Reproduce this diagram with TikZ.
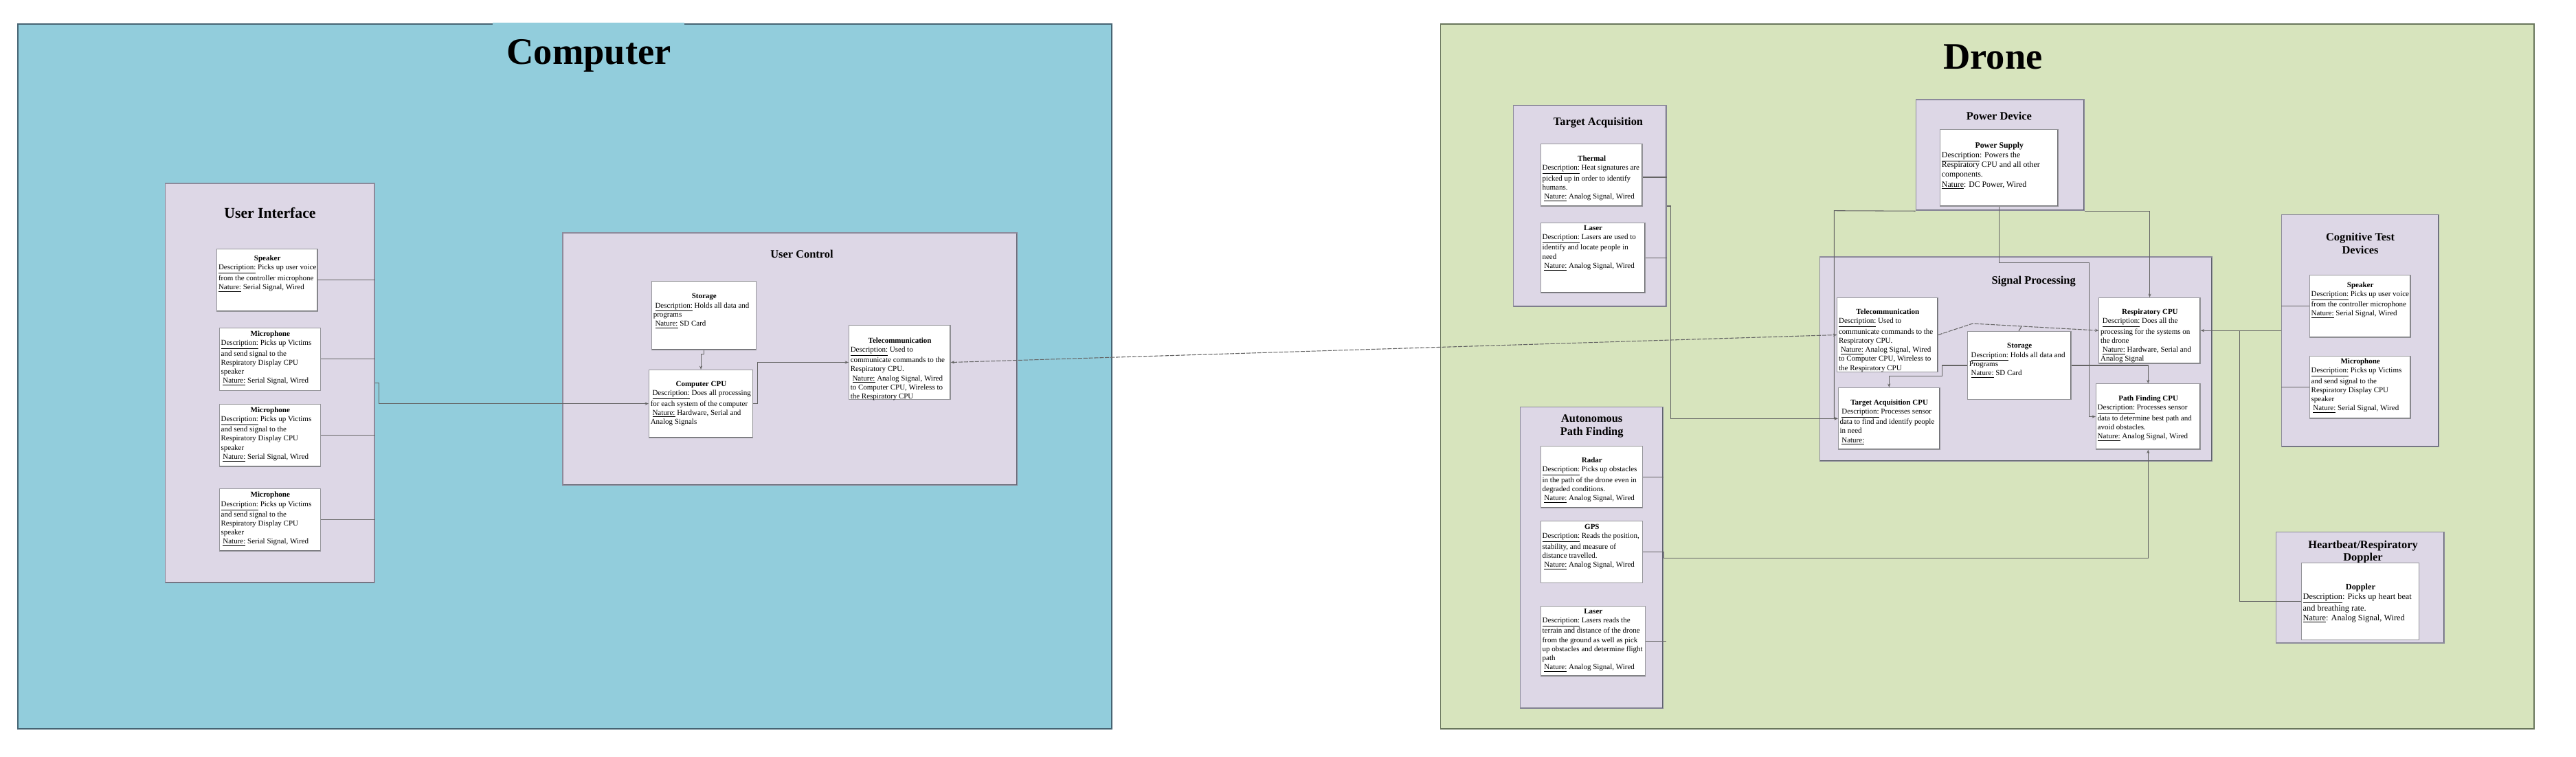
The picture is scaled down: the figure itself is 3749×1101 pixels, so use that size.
\documentclass[tikz,border=0pt]{standalone}
\usepackage{fontspec}
\setmainfont{Liberation Serif}
\usetikzlibrary{arrows.meta,fit}

\definecolor{compblue}{RGB}{146,205,220}
\definecolor{compline}{RGB}{70,100,115}
\definecolor{droneg}{RGB}{215,228,189}
\definecolor{droneline}{RGB}{105,118,92}
\definecolor{lav}{RGB}{221,215,230}
\definecolor{lavline}{RGB}{140,138,155}
\definecolor{lavdark}{RGB}{95,98,110}
\definecolor{wline}{RGB}{150,150,155}
\definecolor{wdark}{RGB}{110,110,115}
\definecolor{conn}{RGB}{100,100,100}

\newcommand\und[1]{\underline{#1}}

\tikzset{
 region/.style={inner sep=0pt, line width=0.9pt},
 pbox/.style={fill=lav, draw=lavline, line width=0.6pt, inner sep=0pt,
   path picture={\draw[lavdark,line width=1.6pt] (path picture bounding box.south west) -- (path picture bounding box.south east) -- (path picture bounding box.north east);}},
 wbox/.style={fill=white, draw=wline, line width=0.55pt, inner sep=0pt,
   path picture={\draw[wdark,line width=1.1pt] (path picture bounding box.south west) -- (path picture bounding box.south east) -- (path picture bounding box.north east);}},
 btxt/.style={anchor=north west, inner sep=0pt, align=left, font=\fontsize{6.26}{7.51}\selectfont},
 gtitle/.style={anchor=base, inner sep=0pt, font=\fontsize{31}{36}\selectfont\bfseries},
 stitle/.style={inner sep=0pt, align=center, font=\fontsize{9.33}{10.7}\selectfont\bfseries},
 wire/.style={draw=conn, line width=0.6pt},
 arr/.style={wire, -{Stealth[length=3pt,width=2.4pt]}},
 wless/.style={wire, dash pattern=on 3.5pt off 1pt, {Stealth[open,length=3pt,width=2.4pt]}-{Stealth[open,length=3pt,width=2.4pt]}},
}

\begin{document}
\begin{tikzpicture}[x=0.2mm,y=-0.2mm]
\useasboundingbox (0,0) rectangle (3749,1101);
\fill[white] (0,0) rectangle (3749,1101);

% ---------- regions ----------
\node[region, fill=compblue, draw=compline, fit={(26,35) (1618,1061)}] (comp) {};
\node[region, fill=droneg, draw=droneline, fit={(2096.6,35) (3688,1061)}] (drone) {};
\fill[compblue] (717,33) rectangle (996,37.5);
\node[gtitle] (comp-h) at (857,93) {Computer};
\node[gtitle] (drone-h) at (2900.5,100) {Drone};

% ---------- group boxes ----------
\node[pbox, fit={(240.7,267) (545,848.6)}] (ui) {};
\node[pbox, fit={(819,339) (1480.5,706.7)}] (uc) {};
\node[pbox, fit={(2202.3,153.3) (2425.7,446.7)}] (ta) {};
\node[pbox, fit={(2788.2,145) (3033.4,306.7)}] (pd) {};
\node[pbox, fit={(2648.4,374) (3219.8,671.7)}] (sp) {};
\node[pbox, fit={(3320,312.2) (3549.3,650.2)}] (ctd) {};
\node[pbox, fit={(3312.3,774.3) (3557.3,936)}] (hb) {};
\node[pbox, fit={(2212.3,592.7) (2420.7,1031.7)}] (apf) {};

\node[stitle, anchor=base, font=\fontsize{12.35}{14}\selectfont\bfseries] (ui-h) at (393,317.4) {User Interface};
\node[stitle, anchor=base] (uc-h) at (1167,375.7) {User Control};
\node[stitle, anchor=base] (ta-h) at (2326,182.7) {Target Acquisition};
\node[stitle, anchor=base] (pd-h) at (2909.4,174.3) {Power Device};
\node[stitle, anchor=base] (sp-h) at (2959.6,413.3) {Signal Processing};
\node[stitle, anchor=north] (ctd-h) at (3435,338.6) {Cognitive Test\\Devices};
\node[stitle, anchor=north, font=\fontsize{9.33}{10.4}\selectfont\bfseries] (hb-h) at (3439,786.7) {Heartbeat/Respiratory\\Doppler};
\node[stitle, anchor=north, font=\fontsize{9.33}{10.8}\selectfont\bfseries] (apf-h) at (2316.7,603.8) {Autonomous\\Path Finding};

% ---------- Computer: component boxes ----------
\node[wbox, fit={(315.7,362.6) (462,453)}] (spk1) {};
\node[btxt] (spk1-t) at (317.7,371.8) {\makebox[81.0pt]{\bfseries Speaker}\\
\und{Description:} Picks up user voice\\
from the controller microphone\\
\und{Nature:} Serial Signal, Wired};

\node[wbox, fit={(319.3,477.4) (466.7,568.5)}] (mic1) {};
\node[btxt] (mic1-t) at (321.3,481.7) {\makebox[81.6pt]{\bfseries Microphone}\\
\und{Description:} Picks up Victims\\
and send signal to the\\
Respiratory Display CPU\\
speaker\\
\ \und{Nature:} Serial Signal, Wired};

\node[wbox, fit={(319.3,588.4) (466.7,679)}] (mic2) {};
\node[btxt] (mic2-t) at (321.3,592.3) {\makebox[81.6pt]{\bfseries Microphone}\\
\und{Description:} Picks up Victims\\
and send signal to the\\
Respiratory Display CPU\\
speaker\\
\ \und{Nature:} Serial Signal, Wired};

\node[wbox, fit={(319.3,711.6) (466.7,802.3)}] (mic3) {};
\node[btxt] (mic3-t) at (321.3,715.9) {\makebox[81.6pt]{\bfseries Microphone}\\
\und{Description:} Picks up Victims\\
and send signal to the\\
Respiratory Display CPU\\
speaker\\
\ \und{Nature:} Serial Signal, Wired};

\node[wbox, fit={(948.4,409.3) (1100.6,509.3)}] (ucsto) {};
\node[btxt] (ucsto-t) at (950.4,427.2) {\makebox[84.3pt]{\bfseries Storage}\\
\ \und{Description:} Holds all data and\\
programs\\
\ \und{Nature:} SD Card};

\node[wbox, fit={(944.4,538.3) (1095.7,637)}] (ccpu) {};
\node[btxt] (ccpu-t) at (946.4,554.8) {\makebox[83.8pt]{\bfseries Computer CPU}\\
\ \und{Description:} Does all processing\\
for each system of the computer\\
\ \und{Nature:} Hardware, Serial and\\
Analog Signals};

\node[wbox, fit={(1235.4,473.3) (1383.2,581.7)}] (uctel) {};
\node[btxt] (uctel-t) at (1237.4,491.2) {\makebox[81.8pt]{\bfseries Telecommunication}\\
\und{Description:} Used to\\
communicate commands to the\\
Respiratory CPU.\\
\ \und{Nature:} Analog Signal, Wired\\
to Computer CPU, Wireless to\\
the Respiratory CPU};

% ---------- Drone: component boxes ----------
\node[wbox, fit={(2242.2,209.3) (2390.3,300.3)}] (therm) {};
\node[btxt] (therm-t) at (2244.2,226.8) {\makebox[82.0pt]{\bfseries Thermal}\\
\und{Description:} Heat signatures are\\
picked up in order to identify\\
humans.\\
\ \und{Nature:} Analog Signal, Wired};

\node[wbox, fit={(2242.2,324.3) (2394.3,426)}] (tlas) {};
\node[btxt] (tlas-t) at (2244.2,327.8) {\makebox[84.3pt]{\bfseries Laser}\\
\und{Description:} Lasers are used to\\
identify and locate people in\\
need\\
\ \und{Nature:} Analog Signal, Wired};

\node[wbox, fit={(2823.6,188.3) (2995.3,300.3)}] (ps) {};
\node[btxt, font=\fontsize{6.71}{8.14}\selectfont] (ps-t) at (2825.6,206.5) {\makebox[95.4pt]{\bfseries Power Supply}\\
\und{Description}: Powers the\\
Respiratory CPU and all other\\
components.\\
\und{Nature}: DC Power, Wired};

\node[wbox, fit={(2673.7,433.3) (2820.3,541.7)}] (sptel) {};
\node[btxt] (sptel-t) at (2675.7,449.8) {\makebox[81.1pt]{\bfseries Telecommunication}\\
\und{Description:} Used to\\
communicate commands to the\\
Respiratory CPU.\\
\ \und{Nature:} Analog Signal, Wired\\
to Computer CPU, Wireless to\\
the Respiratory CPU};

\node[wbox, fit={(2675.2,564.3) (2823.3,654.3)}] (tacpu) {};
\node[btxt] (tacpu-t) at (2677.2,581.2) {\makebox[82.0pt]{\bfseries Target Acquisition CPU}\\
\ \und{Description:} Processes sensor\\
data to find and identify people\\
in need\\
\ \und{Nature:}};

\node[wbox, fit={(2863.5,482.3) (3014.3,581.7)}] (spsto) {};
\node[btxt] (spsto-t) at (2865.5,499.2) {\makebox[83.5pt]{\bfseries Storage}\\
\ \und{Description:} Holds all data and\\
Programs\\
\ \und{Nature:} SD Card};

\node[wbox, fit={(3054.8,433.3) (3202.2,529)}] (rcpu) {};
\node[btxt] (rcpu-t) at (3056.8,449.8) {\makebox[81.6pt]{\bfseries Respiratory CPU}\\
\ \und{Description:} Does all the\\
processing for the systems on\\
the drone\\
\ \und{Nature:} Hardware, Serial and\\
Analog Signal};

\node[wbox, fit={(3050.3,558.7) (3202.2,654.3)}] (pfcpu) {};
\node[btxt] (pfcpu-t) at (3052.3,575.8) {\makebox[84.2pt]{\bfseries Path Finding CPU}\\
\und{Description:} Processes sensor\\
data to determine best path and\\
avoid obstacles.\\
\und{Nature:} Analog Signal, Wired};

\node[wbox, fit={(3361.3,400) (3508.3,491)}] (cspk) {};
\node[btxt] (cspk-t) at (3363.3,410.2) {\makebox[81.4pt]{\bfseries Speaker}\\
\und{Description:} Picks up user voice\\
from the controller microphone\\
\und{Nature:} Serial Signal, Wired};

\node[wbox, fit={(3361.3,518.4) (3508.3,609)}] (cmic) {};
\node[btxt] (cmic-t) at (3363.3,521.6) {\makebox[81.4pt]{\bfseries Microphone}\\
\und{Description:} Picks up Victims\\
and send signal to the\\
Respiratory Display CPU\\
speaker\\
\ \und{Nature:} Serial Signal, Wired};

\node[wbox, fit={(3349.3,819.2) (3520.7,931.8)}] (dop) {};
\node[btxt, font=\fontsize{7.0}{7.97}\selectfont] (dop-t) at (3351.3,849.8) {\makebox[95.3pt]{\bfseries Doppler}\\
\und{Description}: Picks up heart beat\\
and breathing rate.\\
\und{Nature}: Analog Signal, Wired};

\node[wbox, fit={(2242.3,649.3) (2390.7,739.3)}] (radar) {};
\node[btxt] (radar-t) at (2244.3,665.8) {\makebox[82.2pt]{\bfseries Radar}\\
\und{Description:} Picks up obstacles\\
in the path of the drone even in\\
degraded conditions.\\
\ \und{Nature:} Analog Signal, Wired};

\node[wbox, fit={(2242.3,758.7) (2390.7,848.7)}] (gps) {};
\node[btxt] (gps-t) at (2244.3,762.8) {\makebox[82.2pt]{\bfseries GPS}\\
\und{Description:} Reads the position,\\
stability, and measure of\\
distance travelled.\\
\ \und{Nature:} Analog Signal, Wired};

\node[wbox, fit={(2242.3,882) (2394.7,984.3)}] (alas) {};
\node[btxt] (alas-t) at (2244.3,885.8) {\makebox[84.4pt]{\bfseries Laser}\\
\und{Description:} Lasers reads the\\
terrain and distance of the drone\\
from the ground as well as pick\\
up obstacles and determine flight\\
path\\
\ \und{Nature:} Analog Signal, Wired};

% ---------- connectors: Computer ----------
\draw[wire] (spk1.east) -- (spk1.east -| ui.east);
\draw[wire] (mic1.east) -- (mic1.east -| ui.east);
\draw[wire] (mic2.east) -- (mic2.east -| ui.east);
\draw[wire] (mic3.east) -- (mic3.east -| ui.east);
\draw[arr] (ui.east |- 0,557.7) -- (551.3,557.7) |- (ccpu.west);
\draw[arr] (ucsto.south) -- ++(0,5.7) -| (ccpu.north);
\draw[arr] (ccpu.east) -- ++(6.7,0) |- (uctel.west);

% ---------- wireless link ----------
\draw[wless] (uctel.east) -- (sptel.west);

% ---------- connectors: Drone ----------
\draw[wire] (therm.east |- 0,258) -- (ta.east |- 0,258);
\draw[wire] (tlas.east) -- (tlas.east -| ta.east);
\draw[arr] (ta.east |- 0,300) -- (2431.8,300) |- (tacpu.west);
\draw[arr] (pd.south west) -- (2669.3,306.7) |- (tacpu.west);
\draw[arr] (pd.south east) -| (rcpu.north);
\draw[arr] (ps.south) |- (3040,382.7) |- (pfcpu.west);
\draw[wire, dash pattern=on 3.5pt off 1pt, -{Stealth[open,length=3pt,width=2.4pt]}] (sptel.east) -- (2870.8,471) -- (rcpu.west);
\draw[wire] (spsto.north -| 2938,0) -- (2942,475.2);
\draw[arr] (spsto.west) -- (2826.8,532) |- (tacpu.north |- 0,547.3) -- (tacpu.north);
\draw[arr] (spsto.east) -| (pfcpu.north);
\draw[wire] (radar.east) -- (radar.east -| apf.east);
\draw[arr] (gps.east) -- (gps.east -| apf.east) -- (apf.east |- 0,812.3) -| (pfcpu.south);
\draw[wire] (alas.east) -- ++(30,0);
\draw[arr] (rcpu.east -| ctd.west) -- (rcpu.east);
\draw[wire] (rcpu.east -| 3259.3,0) |- (dop.west);
\draw[wire] (cspk.west) -- (cspk.west -| ctd.west);
\draw[wire] (cmic.west) -- (cmic.west -| ctd.west);
\end{tikzpicture}
\end{document}
